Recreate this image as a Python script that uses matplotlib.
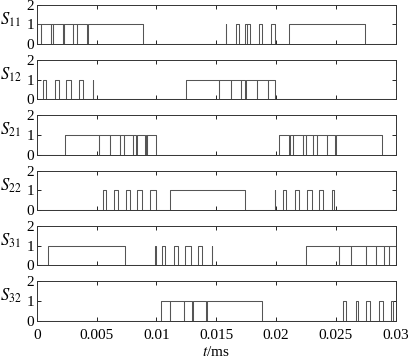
import matplotlib
matplotlib.use("Agg")
from matplotlib import pyplot as plt
import numpy as np

plt.rcParams['font.family'] = 'serif'
plt.rcParams['font.serif'] = ['Liberation Serif', 'DejaVu Serif']
plt.rcParams['mathtext.fontset'] = 'stix'
plt.rcParams['font.size'] = 11

# switching instants (ms), signal starts at 0 and toggles at each instant
s11 = [0, 0.00033, 0.00035, 0.00117, 0.00119, 0.00133, 0.00135, 0.00217, 0.00219,
       0.0023, 0.00232, 0.00305, 0.00307, 0.00333, 0.00335, 0.00422, 0.00425, 0.00888,
       0.01578, 0.01581, 0.01661, 0.01688, 0.01744, 0.01755, 0.01757, 0.01783,
       0.01855, 0.01883, 0.01958, 0.01994, 0.02111, 0.02744]
s12 = [0.00055, 0.00075, 0.00153, 0.00186, 0.00242, 0.00286, 0.00355, 0.00388,
       0.0047, 0.00473, 0.01244, 0.01522, 0.01524, 0.01625, 0.01627, 0.01708, 0.0171,
       0.01744, 0.01746, 0.01838, 0.0184, 0.0193, 0.01932, 0.01994]
s21 = [0.00236, 0.0052, 0.00523, 0.00611, 0.00613, 0.00694, 0.00696, 0.0073, 0.00732,
       0.00805, 0.00807, 0.00833, 0.00835, 0.00908, 0.0091, 0.00922, 0.00924, 0.00994,
       0.02028, 0.02111, 0.02113, 0.02138, 0.0214, 0.02222, 0.02224, 0.0225, 0.02252,
       0.02305, 0.02307, 0.02338, 0.0234, 0.02425, 0.02427, 0.02494, 0.02497, 0.02888]
s22 = [0.00555, 0.00575, 0.00647, 0.0068, 0.00744, 0.00778, 0.00838, 0.0088, 0.0095, 0.01,
       0.01111, 0.01744, 0.01992, 0.01995, 0.02055, 0.02083, 0.02161, 0.02188,
       0.02255, 0.02297, 0.02361, 0.02394, 0.02467, 0.02486]
s31 = [0.00092, 0.00736, 0.0099, 0.00993, 0.01047, 0.01075, 0.01144, 0.0118, 0.01236,
       0.01292, 0.01347, 0.0138, 0.01465, 0.01468, 0.0225, 0.02522, 0.02525, 0.02625,
       0.02627, 0.0275, 0.02752, 0.02833, 0.02835, 0.02903, 0.02905, 0.02944, 0.02946, 0.03]
s32 = [0.01036, 0.01111, 0.01113, 0.01228, 0.0123, 0.013, 0.01302, 0.01417, 0.0142,
       0.01883, 0.02561, 0.02583, 0.02667, 0.02688, 0.0275, 0.02783, 0.02861, 0.02897,
       0.02958, 0.0298]

names = [r'$S_{11}$', r'$S_{12}$', r'$S_{21}$', r'$S_{22}$', r'$S_{31}$', r'$S_{32}$']
signals = [s11, s12, s21, s22, s31, s32]
t_end = 0.03
xticks = [0, 0.005, 0.01, 0.015, 0.02, 0.025, 0.03]
xticklabels = ['0', '0.005', '0.01', '0.015', '0.02', '0.025', '0.03']

fig, axes = plt.subplots(6, 1, figsize=(4.08, 3.63), dpi=100, sharex=True)
fig.subplots_adjust(left=0.09, right=0.97, top=0.987, bottom=0.117, hspace=0.4)

for ax, name, edges in zip(axes, names, signals):
    n = len(edges)
    levels = [0] + [(i + 1) % 2 for i in range(n)]
    x = np.r_[0, edges, t_end]
    y = np.r_[levels, levels[-1]]
    ax.step(x, y, where='post', color='#555555', lw=0.75)
    ax.set_xlim(0, t_end)
    ax.set_ylim(0, 2)
    ax.set_yticks([0, 1, 2])
    ax.tick_params(direction='in', top=True, right=True, length=3, width=0.6, pad=2)
    for sp in ax.spines.values():
        sp.set_linewidth(0.7)
        sp.set_color('#333333')
    ax.set_ylabel(name, rotation=0, fontsize=12, va='center', ha='center')
    ax.yaxis.set_label_coords(-0.072, 0.62)

axes[-1].set_xticks(xticks)
axes[-1].set_xticklabels(xticklabels)
axes[-1].tick_params(axis='x', pad=6)
axes[-1].set_xlabel(r'$t$/ms', labelpad=2)

fig.savefig('out.png', dpi=100)
